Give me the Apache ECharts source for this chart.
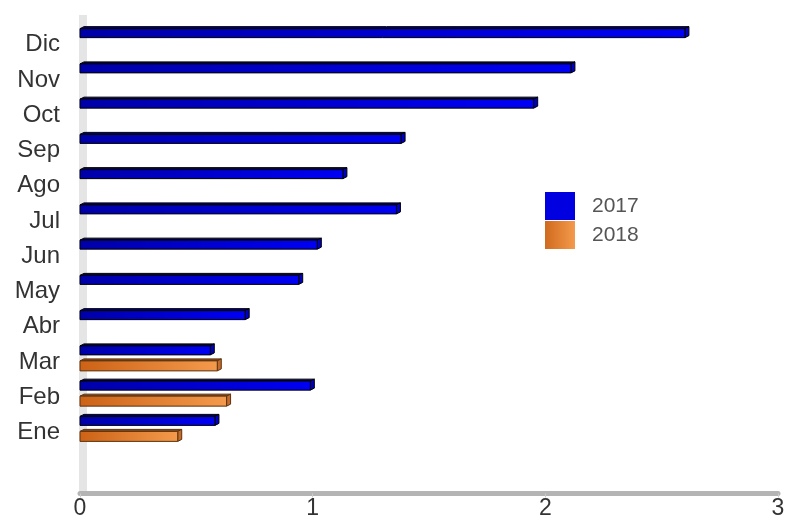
<!DOCTYPE html>
<html>
<head>
<meta charset="utf-8">
<script src="https://cdn.jsdelivr.net/npm/echarts@6/dist/echarts.min.js"></script>
<style>
  html, body { margin: 0; padding: 0; background: #fff; }
  #chart { width: 791px; height: 523px; }
</style>
</head>
<body>
<div id="chart"></div>
<script>
// datos
var months = ["Ene", "Feb", "Mar", "Abr", "May", "Jun", "Jul", "Ago", "Sep", "Oct", "Nov", "Dic"];
var v2017 = [0.58, 0.99, 0.56, 0.71, 0.94, 1.02, 1.36, 1.13, 1.38, 1.95, 2.11, 2.60];
var v2018 = [0.42, 0.63, 0.59];
var xTicks = [0, 1, 2, 3];

var blue = {
  front: new echarts.graphic.LinearGradient(0, 0, 1, 0, [
    { offset: 0, color: "#0000a8" },
    { offset: 1, color: "#0000f4" }
  ]),
  top: "#000070",
  side: "#0000c0",
  line: "#000000"
};
var orange = {
  front: new echarts.graphic.LinearGradient(0, 0, 1, 0, [
    { offset: 0, color: "#cc6216" },
    { offset: 1, color: "#f49a4c" }
  ]),
  top: "#8c4a18",
  side: "#c46a2a",
  line: "#5a3410"
};

// barra con efecto 3d
function bar3d(off, h, pal) {
  return function (params, api) {
    var p0 = api.coord([0, api.value(1)]);
    var p1 = api.coord([api.value(0), api.value(1)]);
    var y = p0[1] + off;
    var dx = 4, dy = 2;
    var x0 = p0[0], x1 = p1[0];
    return {
      type: "group",
      children: [
        { type: "polygon", shape: { points: [[x0, y], [x0 + dx, y - dy], [x1 + dx, y - dy], [x1, y]] },
          style: { fill: pal.top, stroke: pal.line, lineWidth: 1 } },
        { type: "polygon", shape: { points: [[x1, y], [x1 + dx, y - dy], [x1 + dx, y + h - dy], [x1, y + h]] },
          style: { fill: pal.side, stroke: pal.line, lineWidth: 1 } },
        { type: "rect", shape: { x: x0, y: y, width: x1 - x0, height: h },
          style: { fill: pal.front, stroke: pal.line, lineWidth: 1 } }
      ]
    };
  };
}

var myChart = echarts.init(document.getElementById("chart"));
var option = {
  animation: false,
  textStyle: { fontFamily: "Liberation Sans, Arial, sans-serif" },
  grid: { left: 80, right: 13, top: 22.5, height: 423 },
  graphic: [
    { type: "rect", z: 0, shape: { x: 79, y: 15, width: 8, height: 477 }, style: { fill: "#e5e5e5" } }
  ],
  legend: {
    orient: "vertical",
    left: 540,
    top: 187,
    itemWidth: 30,
    itemHeight: 28,
    itemGap: 1,
    icon: "rect",
    textStyle: { fontSize: 21, color: "#555", padding: [0, 0, 0, 12] },
    data: ["2017", "2018"]
  },
  xAxis: {
    type: "value",
    min: 0,
    max: 3,
    interval: 1,
    offset: 48,
    axisLine: { show: true, lineStyle: { color: "#b4b4b4", width: 5 } },
    axisTick: { show: true, length: 4, lineStyle: { color: "#cccccc" } },
    splitLine: { show: false },
    axisLabel: {
      fontSize: 23, color: "#333", margin: 4,
      formatter: function (v) { return xTicks.indexOf(v) >= 0 ? String(v) : ""; }
    }
  },
  yAxis: {
    type: "category",
    data: months,
    axisLine: { show: false },
    axisTick: { show: false },
    axisLabel: { fontSize: 24, color: "#333", margin: 20, verticalAlign: "top", lineHeight: 9 }
  },
  series: [
    {
      name: "2017",
      type: "custom",
      renderItem: bar3d(-11.5, 9, blue),
      itemStyle: { color: "#0000e0" },
      encode: { x: 0, y: 1 },
      data: v2017.map(function (v, i) { return [v, i]; })
    },
    {
      name: "2018",
      type: "custom",
      renderItem: bar3d(3.5, 10, orange),
      itemStyle: {
        color: new echarts.graphic.LinearGradient(0, 0, 1, 0, [
          { offset: 0, color: "#d06a1e" },
          { offset: 1, color: "#f49a4c" }
        ])
      },
      encode: { x: 0, y: 1 },
      data: v2018.map(function (v, i) { return [v, i]; })
    }
  ]
};
myChart.setOption(option);
window.addEventListener("resize", function () {
  myChart.resize();
});
</script>
</body>
</html>
